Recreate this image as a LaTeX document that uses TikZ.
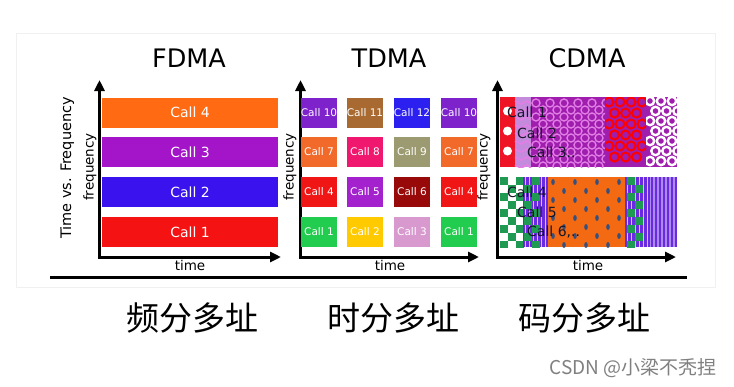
\documentclass[tikz,border=0pt]{standalone}
\usepackage{fontspec}
\setmainfont{DejaVu Sans}
\newfontfamily\cjk{Noto Sans CJK SC}
\usetikzlibrary{arrows.meta}
\definecolor{forange}{HTML}{FF6A12}
\definecolor{fpurple}{HTML}{A414C8}
\definecolor{fblue}{HTML}{3A12EE}
\definecolor{fred}{HTML}{F41212}
\definecolor{tviolet}{HTML}{7E22CC}
\definecolor{tbrown}{HTML}{A86A30}
\definecolor{tblue}{HTML}{2C20F0}
\definecolor{torange}{HTML}{F26A2A}
\definecolor{tpink}{HTML}{F0186E}
\definecolor{tolive}{HTML}{9C9A70}
\definecolor{tred}{HTML}{F01616}
\definecolor{tpurple}{HTML}{A422CE}
\definecolor{tdark}{HTML}{980A0A}
\definecolor{tgreen}{HTML}{22CC4E}
\definecolor{tyellow}{HTML}{FFCA00}
\definecolor{tlilac}{HTML}{D89ACE}
\definecolor{cred}{HTML}{EE1426}
\definecolor{clilac}{HTML}{C48ADC}
\definecolor{cpurple}{HTML}{A01EAE}
\definecolor{cring}{HTML}{E27EE6}
\definecolor{cgreen}{HTML}{1E9A52}
\definecolor{cviolet}{HTML}{6A2AE0}
\definecolor{corange}{HTML}{F46A12}
\definecolor{cdot}{HTML}{34507E}
\definecolor{ctext}{HTML}{16162A}

\begin{document}
\begin{tikzpicture}[x=1pt, y=-1pt, inner sep=0pt,
  axis/.style={line width=3pt, {Triangle[length=11pt,width=10pt]}-{Triangle[length=11pt,width=10pt]}},
  title/.style={font=\fontsize{25.5}{25.5}\selectfont},
  lbl/.style={font=\fontsize{13.5}{13.5}\selectfont},
  bar/.style={minimum width=176pt, minimum height=30pt, text=white, font=\fontsize{14}{14}\selectfont},
  slot/.style={minimum width=36pt, minimum height=30pt, text=white, font=\fontsize{10.5}{10.5}\selectfont},
  call/.style={anchor=west, text=ctext, font=\fontsize{14}{14}\selectfont},
  zh/.style={font=\cjk\fontsize{33}{33}\selectfont}]

\useasboundingbox (0,0) rectangle (734,386);
\fill[white] (0,0) rectangle (734,386);
\draw[black!6, line width=0.8pt] (16,33) rectangle (715,287);

% FDMA
\node[title] (fdma) at (189,58) {FDMA};
\coordinate (fo) at (99.5,257);
\coordinate (fy) at (99.5,80);
\coordinate (fx) at (281,257);
\draw[axis] (fy) -- (fo) -- (fx);
\node[bar, fill=forange] (f4) at (190,112.5) {Call 4};
\node[bar, fill=fpurple] (f3) at (190,152) {Call 3};
\node[bar, fill=fblue] (f2) at (190,192) {Call 2};
\node[bar, fill=fred] (f1) at (190,232) {Call 1};
\node[lbl] (ft) at (190,265) {time};
\node[lbl, rotate=90] (ff) at (90,167) {frequency};
\node[font=\fontsize{14.5}{14.5}\selectfont, rotate=90] (fv) at (67,168) {Time vs. Frequency};

% TDMA
\node[title] (tdma) at (389,58) {TDMA};
\coordinate (to) at (300.5,257);
\coordinate (ty) at (300.5,80);
\coordinate (tx) at (479,257);
\draw[axis] (ty) -- (to) -- (tx);
\node[slot, fill=tviolet] (t13) at (319,112.5) {Call 10};
\node[slot, fill=tbrown] (t14) at (365,112.5) {Call 11};
\node[slot, fill=tblue] (t15) at (412,112.5) {Call 12};
\node[slot, fill=tviolet] (t16) at (459,112.5) {Call 10};
\node[slot, fill=torange] (t9) at (319,152) {Call 7};
\node[slot, fill=tpink] (t10) at (365,152) {Call 8};
\node[slot, fill=tolive] (t11) at (412,152) {Call 9};
\node[slot, fill=torange] (t12) at (459,152) {Call 7};
\node[slot, fill=tred] (t5) at (319,192) {Call 4};
\node[slot, fill=tpurple] (t6) at (365,192) {Call 5};
\node[slot, fill=tdark] (t7) at (412,192) {Call 6};
\node[slot, fill=tred] (t8) at (459,192) {Call 4};
\node[slot, fill=tgreen] (t1) at (319,232) {Call 1};
\node[slot, fill=tyellow] (t2) at (365,232) {Call 2};
\node[slot, fill=tlilac] (t3) at (412,232) {Call 3};
\node[slot, fill=tgreen] (t4) at (459,232) {Call 1};
\node[lbl] (tt) at (390,265) {time};
\node[lbl, rotate=90] (tf) at (290,167) {frequency};

% CDMA
\node[title] (cdma) at (587,58) {CDMA};
\coordinate (co) at (497.5,257);
\coordinate (cy) at (497.5,80);
\coordinate (cx) at (676,257);
\draw[axis] (cy) -- (co) -- (cx);
\begin{scope}
\clip (500,97) rectangle (677,167);
\fill[cpurple] (500,97) rectangle (677,167);
\fill[cred] (500,97) rectangle (515,167);
\fill[clilac] (515,97) rectangle (531,167);
\foreach \y in {111,131,151} \fill[white] (507.5,\y) circle (4.5);
\foreach \y in {101,109,...,165} \draw[cring, line width=1.6pt] (515,\y) -- (521,\y+3) -- (527,\y) -- (531,\y+3);
\begin{scope}
\clip (531,97) rectangle (605,167);
\foreach \x in {536,550,...,606} \foreach \y in {103,117,...,167} \draw[cring, line width=1.4pt] (\x,\y) circle (4);
\foreach \x in {543,557,...,606} \foreach \y in {110,124,...,167} \draw[cring, line width=1.4pt] (\x,\y) circle (4);
\end{scope}
\begin{scope}
\clip (605,97) rectangle (646,167);
\foreach \x in {609,620,...,646} \foreach \y in {102,124,...,167} \draw[red, line width=2pt] (\x,\y) circle (4.5);
\foreach \x in {614.5,625.5,...,646} \foreach \y in {113,135,...,167} \draw[red, line width=2pt] (\x,\y) circle (4.5);
\end{scope}
\begin{scope}
\clip (646,97) rectangle (677,167);
\foreach \x in {650,661,672} \foreach \y in {101,121,...,167} \draw[white, line width=2.4pt] (\x,\y) circle (4.2);
\foreach \x in {655.5,666.5,677.5} \foreach \y in {111,131,...,167} \draw[white, line width=2.4pt] (\x,\y) circle (4.2);
\end{scope}
\end{scope}
\begin{scope}
\clip (500,177) rectangle (677,247);
\fill[white] (500,177) rectangle (523,247);
\foreach \y in {177,193,...,247} {\fill[cgreen] (500,\y) rectangle ++(8,8); \fill[cgreen] (516,\y) rectangle ++(8,8); \fill[cgreen] (508,\y+8) rectangle ++(8,8);}
\fill[cviolet] (523,177) rectangle (548,247);
\foreach \x in {525,529,...,548} \draw[white!70!cviolet, line width=0.8pt] (\x,177) -- (\x,247);
\foreach \y in {177,193,...,247} {\fill[cgreen] (524,\y+8) rectangle ++(8,8); \fill[cgreen] (532,\y) rectangle ++(8,8);}
\fill[corange] (548,177) rectangle (625,247);
\foreach \x in {553,575,...,625} \foreach \y in {182,200,...,247} \fill[cdot] (\x,\y) ellipse (1.8 and 3);
\foreach \x in {564,586,...,625} \foreach \y in {191,209,...,247} \fill[cdot] (\x,\y) ellipse (1.8 and 3);
\fill[cviolet] (625,177) rectangle (650,247);
\foreach \x in {627,631,...,650} \draw[white!70!cviolet, line width=0.8pt] (\x,177) -- (\x,247);
\foreach \y in {177,193,...,247} {\fill[cgreen] (627,\y) rectangle ++(8,8); \fill[cgreen] (635,\y+8) rectangle ++(8,8);}
\fill[cviolet!55!white] (650,177) rectangle (677,247);
\foreach \x in {651,655,...,677} \fill[cviolet] (\x,177) rectangle ++(2.2,70);
\end{scope}
\node[call] (c1) at (507,112) {Call 1};
\node[call] (c2) at (517,133) {Call 2};
\node[call] (c3) at (527,152) {Call 3..};
\node[call] (c4) at (507,192) {Call 4};
\node[call] (c5) at (517,212) {Call 5};
\node[call] (c6) at (527,232) {Call 6,..};
\node[lbl] (ct) at (588,265) {time};
\node[lbl, rotate=90] (cf) at (484,167) {frequency};

% base line
\coordinate (bl) at (50,277);
\coordinate (br) at (687,277);
\draw[line width=3pt] (bl) -- (br);

\node[zh] (z1) at (192,318) {频分多址};
\node[zh] (z2) at (393,318) {时分多址};
\node[zh] (z3) at (584,318) {码分多址};
\node[font=\cjk\fontsize{19}{19}\selectfont, text=black!50] (mark) at (633,368) {CSDN @小梁不秃捏};
\end{tikzpicture}
\end{document}
